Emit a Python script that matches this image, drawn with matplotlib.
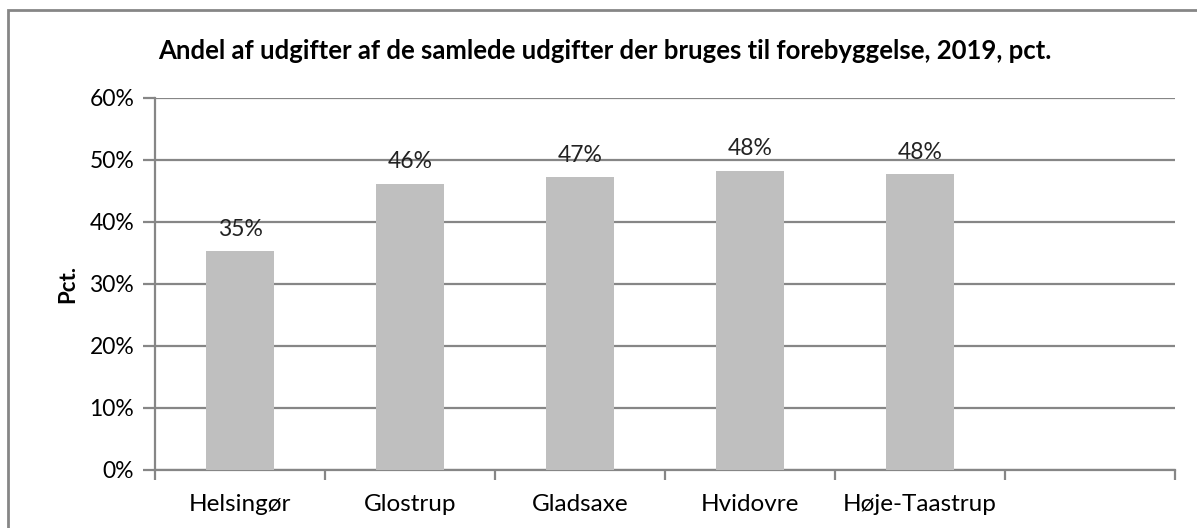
import numpy as np
import matplotlib
matplotlib.use("Agg")
from matplotlib import pyplot as plt
from matplotlib.patches import Rectangle

# data
kommuner = ["Helsingør", "Glostrup", "Gladsaxe", "Hvidovre", "Høje-Taastrup", ""]
andel = [35.3, 46.2, 47.3, 48.3, 47.7, np.nan]
yticks = [0, 10, 20, 30, 40, 50, 60]

plt.rcParams['font.family'] = ['Lato', 'DejaVu Sans']
grey = '#868686'

fig = plt.figure(figsize=(11.97, 5.28), dpi=100)
ax = fig.add_axes([155/1197, 1 - 470/528, 1020/1197, 372/528])

x = np.arange(len(kommuner))
ax.bar(x, andel, width=0.4, color='#bfbfbf', zorder=3)

# value labels above bars
for xi, v in zip(x, andel):
    if not np.isnan(v):
        ax.annotate('%d%%' % round(v), (xi, v), xytext=(0, 8), textcoords='offset points',
                    ha='center', va='bottom', fontsize=16.5, color='#222222')

ax.set_xlim(-0.5, len(kommuner) - 0.5)
ax.set_ylim(0, 60)
ax.set_yticks(yticks)
ax.set_yticklabels(['%d%%' % t for t in yticks], fontsize=16.5)
ax.yaxis.grid(True, color=grey, linewidth=1.6, zorder=0)

# category ticks between slots, labels in the middle
ax.set_xticks(np.arange(-0.5, len(kommuner), 1.0))
ax.set_xticklabels([])
ax.set_xticks(x, minor=True)
ax.set_xticklabels(kommuner, minor=True, fontsize=17.5)
ax.tick_params(axis='x', which='minor', length=0, pad=17)
ax.tick_params(axis='x', which='major', length=7, width=1.6, color=grey)
ax.tick_params(axis='y', length=9, width=1.6, color=grey, pad=6)

for s in ['top', 'right']:
    ax.spines[s].set_visible(False)
for s in ['left', 'bottom']:
    ax.spines[s].set_color(grey)
    ax.spines[s].set_linewidth(1.6)

ax.set_ylabel('Pct.', fontsize=16, fontweight='bold', labelpad=8)

fig.text(158/1197, 1 - 51/528, 'Andel af udgifter af de samlede udgifter der bruges til forebyggelse, 2019, pct.',
         fontsize=18.5, fontweight='bold', ha='left', va='center')

# outer chart border (right/bottom run off the picture)
fig.patches.append(Rectangle((8/1197, -0.1), 1.2, 1 - 10/528 + 0.1, transform=fig.transFigure,
                             fill=False, edgecolor=grey, linewidth=2))

fig.savefig('out.png', dpi=100)
